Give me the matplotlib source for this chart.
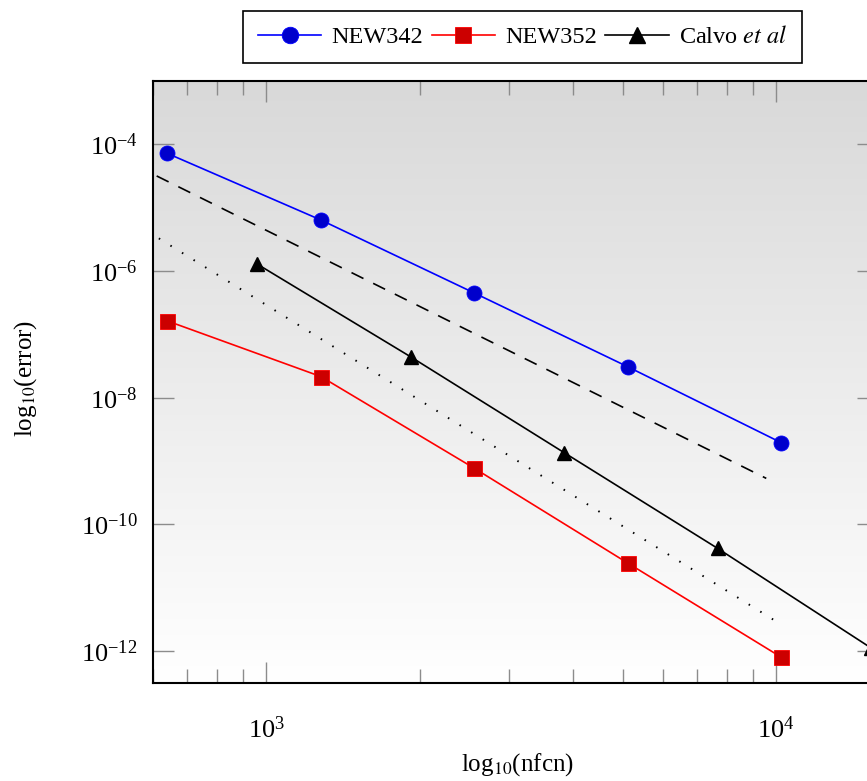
import numpy as np
import matplotlib
matplotlib.use("Agg")
import matplotlib.pyplot as plt
from matplotlib.ticker import FixedLocator, NullLocator, LogFormatterSciNotation, NullFormatter

plt.rcParams['font.family'] = ['Liberation Serif', 'DejaVu Serif']
plt.rcParams['mathtext.fontset'] = 'stix'

# Data
nfcn_new = [640, 1280, 2560, 5120, 10240]
err_new342 = [7.2e-5, 6.4e-6, 4.5e-7, 3.08e-8, 1.95e-9]
err_new352 = [1.63e-7, 2.16e-8, 7.7e-10, 2.45e-11, 8.0e-13]
nfcn_calvo = [960, 1920, 3840, 7680, 15360]
err_calvo = [1.29e-6, 4.43e-8, 1.36e-9, 4.19e-11, 1.12e-12]
# reference slope lines (order 4 dashed, order 5 dotted)
ref4_x = [610, 9570]
ref4_y = [3.17e-5, 5.33e-10]
ref5_x = [616, 9910]
ref5_y = [3.28e-6, 3.09e-12]

xlim = (600, 15850)
ylim = (3.1e-13, 1e-3)

W, H = 867, 781
fig = plt.figure(figsize=(W/100, H/100), dpi=100)
left, right, bottom, top = 153/W, 878/W, 1-683.3/H, 1-81/H
pos = [left, bottom, right-left, top-bottom]

# gradient background
bg = fig.add_axes(pos, zorder=0)
grad = np.linspace(0, 1, 256).reshape(-1, 1)
top_c = np.array([0.85, 0.85, 0.85])
bot_c = np.array([1.0, 1.0, 1.0])
img = top_c[None, None, :] * (1-grad[:, :, None]) + bot_c[None, None, :] * grad[:, :, None]
bg.imshow(img, aspect='auto', extent=[0, 1, 0, 1], interpolation='bilinear')
bg.set_axis_off()

ax = fig.add_axes(pos, zorder=1)
ax.set_facecolor('none')
ax.set_xscale('log')
ax.set_yscale('log')
ax.set_xlim(*xlim)
ax.set_ylim(*ylim)

ax.plot(nfcn_new, err_new342, color='#0000ff', lw=1.2, marker='o', ms=10.8,
        mfc='#0000cc', mec='#0000ff', mew=0.6, label='NEW342', zorder=4, clip_on=False)
ax.plot(nfcn_new, err_new352, color='#ff0000', lw=1.2, marker='s', ms=10.8,
        mfc='#cc0000', mec='#ff0000', mew=0.6, label='NEW352', zorder=4, clip_on=False)
ax.plot(nfcn_calvo, err_calvo, color='black', lw=1.2, marker='^', ms=10,
        mfc='black', mec='black', label=r'Calvo $\mathit{et\ al}$', zorder=4, clip_on=False)
ax.plot(ref4_x, ref4_y, color='black', lw=1.2, ls=(0, (8, 6.5)), zorder=3)
ax.plot(ref5_x, ref5_y, color='black', lw=1.4, ls=(0, (0.8, 6.2)), zorder=3)

ax.yaxis.set_major_locator(FixedLocator([1e-12, 1e-10, 1e-8, 1e-6, 1e-4]))
ax.yaxis.set_minor_locator(NullLocator())
ax.xaxis.set_major_locator(FixedLocator([1e3, 1e4]))
minors = [m * 10**e for e in (2, 3, 4) for m in range(2, 10)]
ax.xaxis.set_minor_locator(FixedLocator(minors))
ax.xaxis.set_major_formatter(LogFormatterSciNotation())
ax.yaxis.set_major_formatter(LogFormatterSciNotation())
ax.xaxis.set_minor_formatter(NullFormatter())

ax.tick_params(which='both', direction='in', top=True, right=True, color='#8c8c8c', width=1.0)
ax.tick_params(which='major', length=15)
ax.tick_params(which='minor', length=10)
ax.tick_params(axis='x', which='major', pad=24, labelsize=19)
ax.tick_params(axis='y', which='major', pad=11, labelsize=19)
for sp in ax.spines.values():
    sp.set_linewidth(1.5)
    sp.set_color('black')

fig.text(517/W, 1-765/H, r'log$_{10}$(nfcn)', ha='center', va='center', fontsize=18)
fig.text(26/W, 1-378/H, r'log$_{10}$(error)', ha='center', va='center', fontsize=18, rotation=90)

h, l = ax.get_legend_handles_labels()
leg = fig.legend(h, l, loc='center', bbox_to_anchor=(522.5/W, 1-37/H), ncol=3, fontsize=17.5,
                 frameon=True, fancybox=False, edgecolor='black', framealpha=1,
                 handlelength=2.6, columnspacing=0.35, handletextpad=0.42, borderpad=0.6,
                 borderaxespad=0, markerscale=1.1)
leg.get_frame().set_linewidth(1.2)

fig.savefig('out.png', dpi=100)
